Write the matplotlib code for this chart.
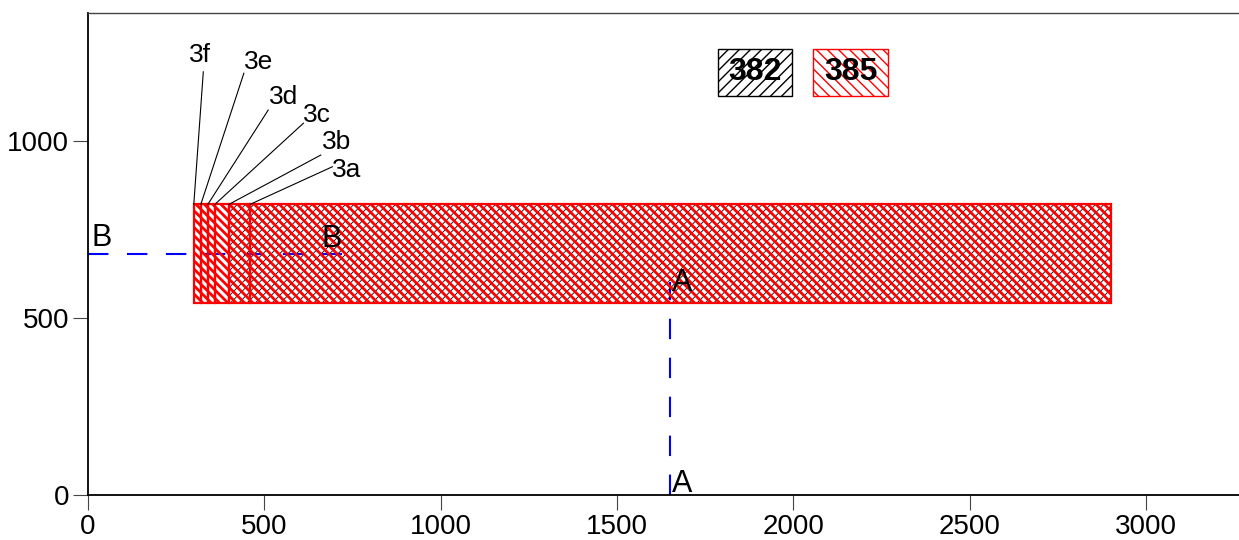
# Cross-section sketch: layers 3a-3f of material 385 over a zone of 382, with cut lines A-A and B-B
import matplotlib
matplotlib.use('Agg')
import matplotlib.pyplot as plt
import matplotlib.patches as mpatches
import numpy as np

plt.rcParams['font.family'] = ['Liberation Sans', 'DejaVu Sans']

# Layers (material 385)
layer_names = ['3a', '3b', '3c', '3d', '3e', '3f']
layer_left = [460, 400, 360, 340, 320, 300]
layer_right = [2900, 460, 400, 360, 340, 320]
layer_bottom = 540
layer_top = 820

# Zone of material 382 under the layers
zone382_left = 400
zone382_right = 2900

legend_labels = ['382', '385']

# Cut lines
cut_a_x = 1650
cut_a_y = [0, 600]
cut_b_y = 680
cut_b_x = [0, 720]

x_ticks = [0, 500, 1000, 1500, 2000, 2500, 3000]
y_ticks = [0, 500, 1000]

# leader line ends and label spots (layout only)
leader_x = [693, 660, 611, 511, 442, 327]
leader_y = [926, 959, 1049, 1086, 1190, 1194]
label_x = [693, 664, 611, 514, 443, 287]
label_y = [896, 975, 1053, 1103, 1201, 1222]

fig = plt.figure(figsize=(12.39, 5.4), dpi=100)
ax = fig.add_axes([88 / 1239, 1 - 494.8 / 540, 1151 / 1239, 481.8 / 540])


def set_hlw(patches, lw):
    for p in patches:
        if hasattr(p, 'set_hatch_linewidth'):
            p.set_hatch_linewidth(lw)


# cut lines go under the (transparent) bars
ax.plot([cut_a_x, cut_a_x], cut_a_y, color='#0000ff', lw=1.5,
        linestyle=(0, (9.8, 8.9)), zorder=1)
ax.plot(cut_b_x, [cut_b_y, cut_b_y], color='#0000ff', lw=1.5,
        linestyle=(0, (9.8, 8.9)), zorder=1)

# 382 zone, thin black hatch
with plt.rc_context({'hatch.linewidth': 0.6}):
    b382 = ax.bar(zone382_left, layer_top - layer_bottom,
                  width=zone382_right - zone382_left, bottom=layer_bottom,
                  align='edge', fill=False, hatch='////', edgecolor='black',
                  linewidth=0, zorder=2)
set_hlw(b382, 0.6)

# 385 layers, red hatch
widths = np.subtract(layer_right, layer_left)
with plt.rc_context({'hatch.linewidth': 2.0}):
    b385 = ax.bar(layer_left, layer_top - layer_bottom, width=widths,
                  bottom=layer_bottom, align='edge', fill=False,
                  hatch='\\\\\\\\', edgecolor='red', linewidth=1.6, zorder=3)
set_hlw(b385, 2.0)

# layer labels with leader lines
for i, name in enumerate(layer_names):
    ax.plot([layer_left[i], leader_x[i]], [layer_top, leader_y[i]],
            color='black', lw=0.8, zorder=4)
    ax.text(label_x[i], label_y[i], name, fontsize=19, ha='left',
            va='baseline', zorder=5)

# cut labels
ax.text(10, 702, 'B', fontsize=22, va='baseline')
ax.text(661, 700, 'B', fontsize=22, va='baseline', zorder=5)
ax.text(1656, 576, 'A', fontsize=22, va='baseline', zorder=5)
ax.text(1656, 7, 'A', fontsize=22, va='baseline', zorder=5)

# legend boxes
box_x = [0.547, 0.630]
box_colors = ['black', 'red']
box_hatch = ['///', '\\\\\\']
for i, lab in enumerate(legend_labels):
    with plt.rc_context({'hatch.linewidth': 1.0}):
        r = mpatches.Rectangle((box_x[i], 0.8284), 0.065, 0.0969,
                               transform=ax.transAxes, fill=False,
                               hatch=box_hatch[i], edgecolor=box_colors[i],
                               linewidth=1.0, zorder=4)
    ax.add_patch(r)
    set_hlw([r], 1.0)
    ax.text(box_x[i] + 0.0325, 0.8284 + 0.0485, lab, transform=ax.transAxes,
            fontsize=23, fontweight='bold', ha='center', va='center', zorder=5)

ax.set_xlim(0, 3264)
ax.set_ylim(0, 1360)
ax.set_xticks(x_ticks)
ax.set_yticks(y_ticks)
ax.tick_params(direction='out', length=10.5, width=0.8, color='#444444',
               labelsize=20, pad=3)
ax.spines['right'].set_visible(False)
for s in ['left', 'bottom']:
    ax.spines[s].set_linewidth(1.3)
ax.spines['top'].set_linewidth(1.0)
ax.spines['top'].set_color('#444444')

fig.savefig('out.png', dpi=100)
